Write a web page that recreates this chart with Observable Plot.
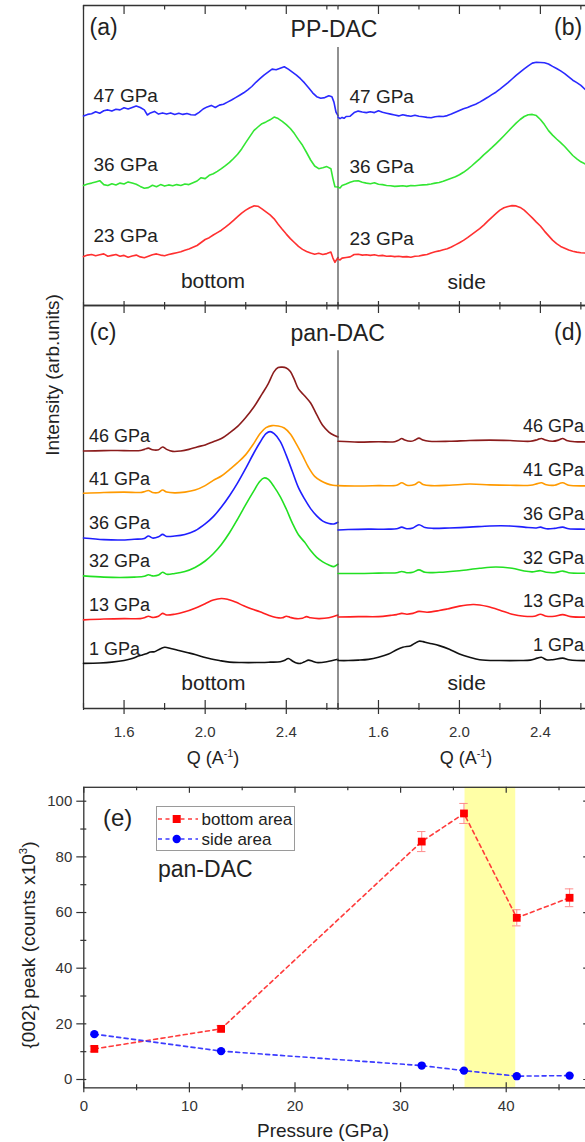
<!DOCTYPE html>
<html><head><meta charset="utf-8">
<script src="https://cdn.jsdelivr.net/npm/d3@7"></script>
<script src="https://cdn.jsdelivr.net/npm/@observablehq/plot@0.6"></script>
<style>
html,body{margin:0;padding:0;background:#fff;overflow:hidden;}
#fig{position:relative;width:585px;height:1142px;overflow:hidden;font-family:"Liberation Sans",Arial,sans-serif;color:#222;background:#fff;}
#fig svg{max-width:none !important;}
.lbl{position:absolute;white-space:nowrap;line-height:1;}
.c{transform:translate(-50%,-50%);}
.l{transform:translate(0,-50%);}
.rot{transform:translate(-50%,-50%) rotate(-90deg);}
</style></head><body><div id="fig"></div>
<script>
// ---------------- DATA ----------------
const qMajor = [1.6, 2.0, 2.4];
const qMinor = [1.4, 1.8, 2.2, 2.6];
const qDomain = [1.4, 2.655];

const ppLabels = ["47 GPa", "36 GPa", "23 GPa"];
const panLabels = ["46 GPa", "41 GPa", "36 GPa", "32 GPa", "13 GPa", "1 GPa"];

// PP-DAC, bottom (a)
const ppBottom47 = [[1.40,63.2],[1.42,63.7],[1.44,63.9],[1.46,64.6],[1.48,64.1],[1.50,64.9],[1.52,65.2],[1.54,64.8],[1.56,65.4],[1.58,65.2],[1.60,65.9],[1.62,65.5],[1.64,66.0],[1.66,66.5],[1.68,66.0],[1.70,65.2],[1.715,63.5],[1.73,64.2],[1.75,64.7],[1.77,63.8],[1.79,64.2],[1.81,63.8],[1.83,64.2],[1.85,63.7],[1.87,64.1],[1.89,63.7],[1.91,64.0],[1.93,63.6],[1.95,63.5],[1.97,64.4],[1.99,65.5],[2.01,66.2],[2.03,66.7],[2.05,66.0],[2.07,66.8],[2.09,67.1],[2.11,67.8],[2.13,68.5],[2.15,69.3],[2.17,70.1],[2.19,70.9],[2.21,71.9],[2.23,73.0],[2.25,74.4],[2.27,75.6],[2.29,76.8],[2.31,77.8],[2.33,78.8],[2.35,78.6],[2.37,79.1],[2.39,79.6],[2.41,78.8],[2.43,77.8],[2.45,76.8],[2.47,75.6],[2.49,74.2],[2.51,72.6],[2.53,70.9],[2.55,69.6],[2.57,69.1],[2.59,69.3],[2.61,69.9],[2.625,69.6],[2.635,67.8],[2.645,64.5],[2.655,63.3]];
const ppBottom36 = [[1.40,40.0],[1.42,40.5],[1.44,40.8],[1.46,41.2],[1.48,41.6],[1.50,40.3],[1.52,40.0],[1.54,40.6],[1.56,40.2],[1.58,40.8],[1.60,40.5],[1.62,41.2],[1.64,40.8],[1.66,40.4],[1.68,39.7],[1.70,39.1],[1.72,39.3],[1.74,40.1],[1.76,39.6],[1.78,40.3],[1.80,39.8],[1.82,40.2],[1.84,39.9],[1.86,40.3],[1.88,40.0],[1.90,40.5],[1.92,40.3],[1.94,40.9],[1.96,41.5],[1.98,42.6],[2.00,42.3],[2.02,43.4],[2.04,43.9],[2.06,44.7],[2.08,45.6],[2.10,46.6],[2.12,47.7],[2.14,49.0],[2.16,50.4],[2.18,52.2],[2.20,54.3],[2.22,56.3],[2.24,58.3],[2.26,59.5],[2.28,60.6],[2.30,61.2],[2.32,61.9],[2.34,62.8],[2.36,62.3],[2.38,61.4],[2.40,60.3],[2.42,59.0],[2.44,57.3],[2.46,55.3],[2.48,53.4],[2.50,51.0],[2.52,48.5],[2.54,46.5],[2.56,45.6],[2.58,45.9],[2.60,46.3],[2.62,45.6],[2.63,42.3],[2.64,39.6],[2.655,39.5]];
const ppBottom23 = [[1.40,16.3],[1.42,16.8],[1.44,17.0],[1.46,16.6],[1.48,16.9],[1.50,17.2],[1.52,16.4],[1.54,16.7],[1.56,17.0],[1.58,16.4],[1.60,16.7],[1.62,16.1],[1.64,16.5],[1.66,16.8],[1.68,16.2],[1.70,15.9],[1.72,16.4],[1.74,16.9],[1.76,17.2],[1.78,16.8],[1.80,16.6],[1.82,17.0],[1.84,17.3],[1.86,17.6],[1.88,17.9],[1.90,18.4],[1.92,18.8],[1.94,19.4],[1.96,20.0],[1.98,21.0],[2.00,22.0],[2.02,22.6],[2.04,23.5],[2.06,24.3],[2.08,25.1],[2.10,26.1],[2.12,27.2],[2.14,28.4],[2.16,29.6],[2.18,30.8],[2.20,31.8],[2.22,32.6],[2.24,33.2],[2.26,33.1],[2.28,32.2],[2.30,31.2],[2.32,30.2],[2.34,28.9],[2.36,27.1],[2.38,25.4],[2.40,23.8],[2.42,22.3],[2.44,21.0],[2.46,19.7],[2.48,18.7],[2.50,18.0],[2.52,17.5],[2.54,17.1],[2.56,17.4],[2.58,17.0],[2.60,17.3],[2.62,17.8],[2.63,15.8],[2.64,14.4],[2.655,16.0]];

// PP-DAC, side (b)
const ppSide47 = [[1.40,62.8],[1.41,62.3],[1.42,62.7],[1.43,62.4],[1.44,63.0],[1.46,63.1],[1.48,64.3],[1.50,64.8],[1.52,64.5],[1.54,64.3],[1.56,64.6],[1.58,64.3],[1.60,64.9],[1.62,64.4],[1.64,64.1],[1.66,63.8],[1.68,63.5],[1.70,63.2],[1.72,63.6],[1.74,63.3],[1.76,63.1],[1.78,63.4],[1.80,63.1],[1.82,62.9],[1.84,62.7],[1.86,62.6],[1.88,62.9],[1.90,63.1],[1.92,63.0],[1.94,63.3],[1.96,63.8],[1.98,64.4],[2.00,65.0],[2.02,65.6],[2.04,66.0],[2.06,66.6],[2.08,67.1],[2.10,67.8],[2.12,68.6],[2.14,69.4],[2.16,70.3],[2.18,71.1],[2.20,72.1],[2.22,73.2],[2.24,74.3],[2.26,75.5],[2.28,76.7],[2.30,77.8],[2.32,78.9],[2.34,79.9],[2.36,80.8],[2.38,81.1],[2.40,81.0],[2.42,80.9],[2.44,80.5],[2.46,79.7],[2.48,79.0],[2.50,78.2],[2.52,77.3],[2.54,76.2],[2.56,75.1],[2.58,74.3],[2.60,73.4],[2.62,72.1],[2.64,71.0],[2.655,70.2]];
const ppSide36 = [[1.40,39.4],[1.41,39.2],[1.42,40.0],[1.44,40.5],[1.46,41.1],[1.48,41.5],[1.50,41.6],[1.52,41.1],[1.54,40.8],[1.56,40.6],[1.58,40.9],[1.60,40.4],[1.62,40.3],[1.64,40.0],[1.66,39.9],[1.68,39.7],[1.70,39.8],[1.72,39.9],[1.74,39.7],[1.76,40.0],[1.78,39.9],[1.80,40.1],[1.82,40.2],[1.84,40.3],[1.86,40.5],[1.88,40.8],[1.90,41.0],[1.92,41.4],[1.94,41.9],[1.96,42.4],[1.98,42.9],[2.00,43.6],[2.02,44.4],[2.04,45.4],[2.06,46.5],[2.08,47.7],[2.10,48.9],[2.12,50.2],[2.14,51.4],[2.16,52.6],[2.18,53.9],[2.20,55.2],[2.22,56.6],[2.24,58.0],[2.26,59.4],[2.28,60.8],[2.30,62.0],[2.32,63.0],[2.34,63.6],[2.36,63.7],[2.38,63.3],[2.40,62.0],[2.42,60.3],[2.44,58.3],[2.46,56.8],[2.48,55.5],[2.50,54.3],[2.52,53.0],[2.54,51.5],[2.56,50.0],[2.58,48.9],[2.60,47.9],[2.62,47.2],[2.64,46.6],[2.655,46.2]];
const ppSide23 = [[1.40,15.5],[1.41,15.2],[1.42,15.8],[1.44,16.0],[1.46,16.2],[1.48,17.0],[1.50,17.1],[1.52,16.8],[1.54,16.9],[1.56,16.7],[1.58,16.9],[1.60,16.6],[1.62,16.7],[1.64,16.4],[1.66,16.5],[1.68,16.3],[1.70,16.4],[1.72,16.2],[1.74,16.3],[1.76,16.1],[1.78,16.4],[1.80,16.5],[1.82,16.8],[1.84,17.0],[1.86,17.5],[1.88,17.9],[1.90,18.2],[1.92,18.6],[1.94,18.9],[1.96,19.5],[1.98,20.2],[2.00,20.9],[2.02,21.7],[2.04,22.6],[2.06,23.6],[2.08,24.6],[2.10,25.6],[2.12,26.8],[2.14,28.1],[2.16,29.4],[2.18,30.6],[2.20,31.8],[2.22,32.6],[2.24,33.0],[2.26,33.3],[2.28,33.2],[2.30,32.7],[2.32,31.8],[2.34,30.5],[2.36,29.2],[2.38,27.8],[2.40,26.5],[2.42,24.8],[2.44,23.3],[2.46,21.8],[2.48,20.6],[2.50,19.7],[2.52,19.1],[2.54,18.5],[2.56,18.1],[2.58,17.8],[2.60,17.6],[2.62,17.5],[2.655,17.3]];

// pan-DAC, bottom (c)
const panBottom46 = [[1.40,63.9],[1.50,64.0],[1.60,64.0],[1.68,64.0],[1.70,64.3],[1.72,64.6],[1.74,64.2],[1.77,64.2],[1.79,64.9],[1.81,64.3],[1.84,63.8],[1.88,63.9],[1.92,64.3],[1.96,64.9],[2.00,65.4],[2.04,66.2],[2.08,67.0],[2.12,68.4],[2.16,70.0],[2.20,72.2],[2.24,74.8],[2.28,78.0],[2.31,80.5],[2.34,83.6],[2.36,84.6],[2.38,84.7],[2.40,84.5],[2.42,83.6],[2.44,81.6],[2.46,79.3],[2.49,77.6],[2.52,75.8],[2.55,72.9],[2.58,70.2],[2.61,68.6],[2.635,67.8],[2.655,67.4]];
const panBottom41 = [[1.40,53.4],[1.50,53.6],[1.60,53.7],[1.68,53.6],[1.70,53.8],[1.72,54.1],[1.74,53.6],[1.77,53.6],[1.79,54.2],[1.81,53.7],[1.85,53.5],[1.90,53.7],[1.95,54.2],[2.00,55.3],[2.04,56.6],[2.08,57.7],[2.12,59.3],[2.16,61.0],[2.20,63.0],[2.24,65.8],[2.27,68.2],[2.30,69.7],[2.33,70.2],[2.36,70.1],[2.39,69.6],[2.42,68.1],[2.45,65.6],[2.48,62.8],[2.51,59.8],[2.54,57.6],[2.57,56.5],[2.60,55.8],[2.63,55.4],[2.655,55.3]];
const panBottom36 = [[1.40,42.3],[1.50,41.9],[1.58,41.8],[1.65,42.0],[1.70,42.2],[1.72,42.8],[1.74,42.3],[1.77,42.6],[1.79,43.2],[1.81,42.7],[1.85,42.8],[1.90,43.2],[1.95,44.1],[2.00,45.8],[2.04,47.6],[2.08,50.0],[2.12,52.8],[2.16,56.0],[2.20,59.6],[2.24,63.4],[2.27,66.0],[2.30,68.2],[2.32,68.7],[2.34,68.2],[2.37,66.3],[2.40,62.8],[2.43,58.8],[2.46,54.8],[2.49,52.0],[2.52,49.6],[2.55,47.8],[2.58,46.5],[2.61,45.9],[2.635,45.8],[2.655,46.2]];
const panBottom32 = [[1.40,32.9],[1.50,32.6],[1.58,32.5],[1.65,32.6],[1.70,32.8],[1.72,33.2],[1.74,32.9],[1.77,33.1],[1.79,33.8],[1.81,33.3],[1.85,33.5],[1.90,34.0],[1.95,35.0],[2.00,36.6],[2.04,38.4],[2.08,40.7],[2.12,43.6],[2.16,47.0],[2.20,50.6],[2.24,54.0],[2.27,56.4],[2.29,57.2],[2.31,56.9],[2.34,55.0],[2.37,52.6],[2.40,49.5],[2.43,46.0],[2.46,43.1],[2.49,41.3],[2.52,39.2],[2.55,37.5],[2.58,36.4],[2.61,35.6],[2.635,35.2],[2.655,35.8]];
const panBottom13 = [[1.40,22.0],[1.50,22.2],[1.60,22.3],[1.68,22.3],[1.70,22.5],[1.72,22.9],[1.74,22.6],[1.77,22.9],[1.79,23.6],[1.81,23.2],[1.85,23.4],[1.90,24.0],[1.95,24.9],[2.00,26.0],[2.04,26.9],[2.08,27.3],[2.11,27.1],[2.15,26.4],[2.19,25.5],[2.23,24.7],[2.27,24.0],[2.31,23.2],[2.35,22.6],[2.38,22.5],[2.40,22.9],[2.42,22.6],[2.45,22.3],[2.48,22.4],[2.50,22.8],[2.52,22.5],[2.56,22.3],[2.61,22.5],[2.655,23.2]];
const panBottom1 = [[1.40,11.2],[1.48,11.3],[1.54,11.5],[1.60,11.9],[1.64,12.4],[1.67,13.0],[1.69,13.3],[1.71,13.6],[1.73,14.0],[1.75,14.1],[1.77,14.6],[1.80,15.2],[1.83,14.9],[1.87,14.4],[1.91,13.9],[1.95,13.4],[1.99,12.8],[2.03,12.3],[2.07,11.9],[2.12,11.5],[2.18,11.4],[2.25,11.4],[2.32,11.5],[2.37,11.6],[2.39,11.9],[2.41,12.4],[2.43,11.8],[2.45,11.3],[2.47,11.2],[2.49,11.6],[2.51,12.0],[2.53,11.7],[2.55,11.4],[2.60,11.6],[2.655,12.2]];

// pan-DAC, side (d)
const panSide46 = [[1.40,66.3],[1.50,66.1],[1.60,66.2],[1.68,66.2],[1.70,66.6],[1.715,67.0],[1.73,66.6],[1.76,66.3],[1.78,66.6],[1.80,67.1],[1.82,66.6],[1.85,66.3],[1.95,66.3],[2.05,66.5],[2.15,66.6],[2.25,66.5],[2.35,66.3],[2.385,66.7],[2.405,67.0],[2.425,66.6],[2.46,66.3],[2.49,66.6],[2.51,67.0],[2.53,66.5],[2.57,66.2],[2.655,66.2]];
const panSide41 = [[1.40,55.3],[1.50,55.2],[1.60,55.3],[1.69,55.4],[1.715,56.0],[1.74,55.4],[1.78,55.6],[1.80,56.2],[1.82,55.6],[1.86,55.3],[1.95,55.4],[2.05,55.7],[2.15,55.5],[2.25,55.4],[2.35,55.4],[2.385,55.8],[2.405,56.0],[2.43,55.5],[2.47,55.4],[2.51,56.0],[2.54,55.4],[2.655,55.3]];
const panSide36 = [[1.40,44.3],[1.45,44.4],[1.55,44.5],[1.65,44.5],[1.69,44.6],[1.715,45.0],[1.74,44.6],[1.77,44.8],[1.80,45.6],[1.83,44.9],[1.87,44.7],[1.95,44.8],[2.05,45.0],[2.15,45.3],[2.25,45.3],[2.32,45.0],[2.38,44.8],[2.40,45.0],[2.43,44.6],[2.47,44.7],[2.51,45.0],[2.54,44.6],[2.60,44.5],[2.655,44.5]];
const panSide32 = [[1.40,33.5],[1.50,33.5],[1.60,33.6],[1.69,33.7],[1.715,34.0],[1.74,33.7],[1.77,33.8],[1.80,34.4],[1.83,33.8],[1.90,33.8],[2.00,34.2],[2.10,34.8],[2.18,35.1],[2.26,34.8],[2.32,34.1],[2.36,33.9],[2.40,34.2],[2.43,33.8],[2.47,33.7],[2.51,34.1],[2.54,33.7],[2.655,33.6]];
const panSide13 = [[1.40,22.7],[1.50,22.8],[1.60,22.8],[1.66,23.1],[1.69,23.3],[1.715,23.6],[1.74,23.4],[1.77,23.6],[1.80,24.1],[1.84,23.9],[1.90,24.3],[1.94,24.7],[2.00,25.4],[2.067,25.8],[2.10,25.7],[2.14,25.3],[2.20,24.4],[2.26,23.4],[2.32,22.9],[2.37,22.9],[2.40,23.4],[2.43,22.9],[2.47,22.9],[2.51,23.3],[2.55,22.8],[2.655,22.7]];
const panSide1 = [[1.40,11.9],[1.45,11.9],[1.50,12.0],[1.55,12.2],[1.60,12.7],[1.65,13.5],[1.69,14.6],[1.72,15.2],[1.76,15.6],[1.78,16.2],[1.80,16.7],[1.82,16.6],[1.84,16.3],[1.87,16.0],[1.90,15.6],[1.95,14.7],[2.00,13.5],[2.05,12.7],[2.10,12.1],[2.20,11.9],[2.30,11.9],[2.35,12.0],[2.385,12.5],[2.405,12.7],[2.43,12.1],[2.46,12.1],[2.51,12.5],[2.54,12.1],[2.58,11.9],[2.655,11.9]];

// Panel (e)
const pressure   = [1, 13, 32, 36, 41, 46];
const bottomArea = [11.0, 18.2, 85.5, 95.6, 58.1, 65.3];
const bottomErr  = [1.0, 1.1, 3.6, 3.6, 2.9, 3.2];
const sideArea   = [16.3, 10.2, 5.0, 3.2, 1.2, 1.4];
const anomalyRange = [36.1, 40.9];
const pMajor = [0, 10, 20, 30, 40];
const pMinor = [5, 15, 25, 35, 45];
const aMajor = [0, 20, 40, 60, 80, 100];
const aMinor = [10, 30, 50, 70, 90];

// ---------------- STYLE ----------------
const FONT = "'Liberation Sans', Arial, sans-serif";
const FRAME = "#333";
const ppColors = ["#2a2aff", "#33e633", "#ff3030"];
const panColors = ["#8b1c1c", "#ff9a00", "#1f1fff", "#22e022", "#ff2020", "#111111"];
const W = 600;
const SVG_STYLE = {background: "transparent", overflow: "visible", fontFamily: FONT, maxWidth: "none"};

const fig = document.getElementById("fig");
function place(svg, top) {
  svg.style.position = "absolute"; svg.style.left = "0px"; svg.style.top = top + "px";
  svg.style.maxWidth = "none";
  fig.appendChild(svg);
}
function addText(html, x, y, size, cls) {
  const d = document.createElement("div");
  d.className = "lbl " + cls;
  d.style.left = x + "px"; d.style.top = y + "px"; d.style.fontSize = size + "px";
  d.innerHTML = html;
  fig.appendChild(d);
}

function spectraPanel(cfg) {
  const left = cfg.side === "bottom" ? 83 : 337.5;
  const right = cfg.side === "bottom" ? 337.5 : 591.5;
  const fh = cfg.height - cfg.mt - cfg.mb;
  const yDom = [0, 100];
  const marks = [];
  marks.push(Plot.ruleY([yDom[1]], {stroke: FRAME, strokeWidth: 1.3}));
  marks.push(Plot.ruleY([yDom[0]], {stroke: FRAME, strokeWidth: 1.3}));
  if (cfg.side === "bottom") marks.push(Plot.ruleX([qDomain[0]], {stroke: FRAME, strokeWidth: 1.3}));
  else marks.push(Plot.ruleX([qDomain[0]], {y1: yDom[0], y2: cfg.dividerTop, stroke: "#555", strokeWidth: 1.3}));
  marks.push(Plot.tickX(qMajor, {x: d => d, insetBottom: fh - cfg.topTicks[0], stroke: FRAME, strokeWidth: 1.2}));
  marks.push(Plot.tickX(qMinor, {x: d => d, insetBottom: fh - cfg.topTicks[1], stroke: FRAME, strokeWidth: 1.2}));
  const bt = cfg.bottomTicks;
  marks.push(Plot.tickX(qMajor, {x: d => d, insetTop: fh - bt[0], insetBottom: -bt[1], stroke: FRAME, strokeWidth: 1.2}));
  marks.push(Plot.tickX(qMinor, {x: d => d, insetTop: fh - bt[2], insetBottom: -bt[3], stroke: FRAME, strokeWidth: 1.2}));
  if (cfg.tickLabels) {
    marks.push(Plot.text(qMajor, {x: d => d, text: d => d.toFixed(1), frameAnchor: "bottom", dy: 23.5, lineAnchor: "middle", fontSize: 15, fill: "#333"}));
  }
  cfg.series.forEach(s => {
    marks.push(Plot.line(s.data, {x: d => d[0], y: d => d[1], stroke: s.color, strokeWidth: 1.6, curve: cfg.curve}));
  });
  cfg.series.forEach(s => {
    const yv = cfg.labelAtEnd ? s.data[s.data.length - 1][1] : s.data[0][1];
    marks.push(Plot.text([s], {
      y: () => yv + cfg.labelOffset, text: () => s.label,
      frameAnchor: cfg.labelAtEnd ? "right" : "left",
      textAnchor: cfg.labelAtEnd ? "end" : "start",
      dx: cfg.labelDx, lineAnchor: "middle", fontSize: cfg.fontSize, fill: "#222"
    }));
  });
  const svg = Plot.plot({
    width: W, height: cfg.height,
    marginLeft: left, marginRight: W - right, marginTop: cfg.mt, marginBottom: cfg.mb,
    x: {domain: qDomain, axis: null},
    y: {domain: yDom, axis: null},
    style: SVG_STYLE,
    marks
  });
  place(svg, cfg.top);
}

const mk = (datas, labels, colors) => datas.map((d, i) => ({data: d, label: labels[i], color: colors[i]}));

// Row 1: PP-DAC
const row1 = {top: 0, height: 310, mt: 5, mb: 5, topTicks: [9, 4.5], bottomTicks: [4, 0, 3, 0], curve: "linear", fontSize: 19, labelOffset: 6.8, tickLabels: false, dividerTop: 86};
spectraPanel({...row1, side: "bottom", series: mk([ppBottom47, ppBottom36, ppBottom23], ppLabels, ppColors), labelDx: 10});
spectraPanel({...row1, side: "side", series: mk([ppSide47, ppSide36, ppSide23], ppLabels, ppColors), labelDx: 11.5});

// Row 2: pan-DAC
const row2 = {top: 300, height: 460, mt: 5, mb: 52, topTicks: [8, 4.5], bottomTicks: [8, 6, 5, 2], curve: "catmull-rom", fontSize: 18, tickLabels: true, dividerTop: 88.8};
spectraPanel({...row2, side: "bottom", series: mk([panBottom46, panBottom41, panBottom36, panBottom32, panBottom13, panBottom1], panLabels, panColors), labelDx: 5.5, labelOffset: 3.6});
spectraPanel({...row2, side: "side", series: mk([panSide46, panSide41, panSide36, panSide32, panSide13, panSide1], panLabels, panColors), labelDx: -8, labelOffset: 3.8, labelAtEnd: true});

// Panel (e)
{
  const height = 372, mt = 16.8, mb = 54.65, ml = 83.3, mr = W - 590.2;
  const fh = height - mt - mb, fw = W - ml - mr;
  const idx = d3.range(pressure.length);
  const svg = Plot.plot({
    width: W, height,
    marginLeft: ml, marginRight: mr, marginTop: mt, marginBottom: mb,
    x: {domain: [0, 48], axis: null},
    y: {domain: [-3, 105], axis: null},
    style: SVG_STYLE,
    marks: [
      Plot.rect([anomalyRange], {x1: d => d[0], x2: d => d[1], fill: "#ffffa6"}),
      Plot.tickX(pMajor, {x: d => d, insetTop: fh - 5, insetBottom: -5, stroke: FRAME, strokeWidth: 1.2}),
      Plot.tickX(pMinor, {x: d => d, insetTop: fh - 3, insetBottom: -3, stroke: FRAME, strokeWidth: 1.2}),
      Plot.tickX(pMajor, {x: d => d, insetBottom: fh - 6, stroke: FRAME, strokeWidth: 1.2}),
      Plot.tickX(pMinor, {x: d => d, insetBottom: fh - 3.5, stroke: FRAME, strokeWidth: 1.2}),
      Plot.tickY(aMajor, {y: d => d, insetRight: fw - 3, insetLeft: -7, stroke: FRAME, strokeWidth: 1.2}),
      Plot.tickY(aMinor, {y: d => d, insetRight: fw - 3, insetLeft: -3, stroke: FRAME, strokeWidth: 1.2}),
      Plot.tickY(aMajor, {y: d => d, insetLeft: fw - 7, stroke: FRAME, strokeWidth: 1.2}),
      Plot.tickY(aMinor, {y: d => d, insetLeft: fw - 4, stroke: FRAME, strokeWidth: 1.2}),
      Plot.frame({stroke: FRAME, strokeWidth: 1.3}),
      Plot.text(pMajor, {x: d => d, text: d => String(d), frameAnchor: "bottom", dy: 18, lineAnchor: "middle", fontSize: 15, fill: "#333"}),
      Plot.text(aMajor, {y: d => d, text: d => String(d), frameAnchor: "left", dx: -11.5, textAnchor: "end", lineAnchor: "middle", fontSize: 15, fill: "#333"}),
      Plot.ruleX(idx, {x: i => pressure[i], y1: i => bottomArea[i] - bottomErr[i], y2: i => bottomArea[i] + bottomErr[i], stroke: "#ff8c8c", strokeWidth: 1}),
      Plot.ruleY(idx, {y: i => bottomArea[i] + bottomErr[i], x1: i => pressure[i] - 0.4, x2: i => pressure[i] + 0.4, stroke: "#ff8c8c", strokeWidth: 1}),
      Plot.ruleY(idx, {y: i => bottomArea[i] - bottomErr[i], x1: i => pressure[i] - 0.4, x2: i => pressure[i] + 0.4, stroke: "#ff8c8c", strokeWidth: 1}),
      Plot.line(idx, {x: i => pressure[i], y: i => bottomArea[i], stroke: "#ff3b3b", strokeWidth: 1.6, strokeDasharray: "4,3.5"}),
      Plot.line(idx, {x: i => pressure[i], y: i => sideArea[i], stroke: "#3b3bff", strokeWidth: 1.6, strokeDasharray: "4,3.5"}),
      Plot.dot(idx, {x: i => pressure[i], y: i => bottomArea[i], symbol: "square", r: 4.4, fill: "#ff0000", stroke: "none"}),
      Plot.dot(idx, {x: i => pressure[i], y: i => sideArea[i], symbol: "circle", r: 4.2, fill: "#0000ff", stroke: "none"})
    ]
  });
  place(svg, 770);
}

// Legend for (e)
{
  const lg = document.createElement("div");
  lg.style.cssText = "position:absolute;left:156px;top:806px;width:139px;height:45px;border:1.3px solid #9a9a9a;box-sizing:border-box;background:#fff;";
  lg.innerHTML = `<svg width="137" height="43" style="position:absolute;left:0;top:0;font-family:${FONT}">
    <line x1="1" x2="41" y1="12" y2="12" stroke="#ff3b3b" stroke-width="1.6" stroke-dasharray="4,3.5"/>
    <rect x="15.7" y="8" width="8" height="8" fill="#ff0000"/>
    <line x1="1" x2="41" y1="32" y2="32" stroke="#3b3bff" stroke-width="1.6" stroke-dasharray="4,3.5"/>
    <circle cx="19.7" cy="32" r="4.2" fill="#0000ff"/>
    <text x="44.5" y="12" dy="0.35em" font-size="17" fill="#222">bottom area</text>
    <text x="44.5" y="32" dy="0.35em" font-size="17" fill="#222">side area</text>
  </svg>`;
  fig.appendChild(lg);
}

// Annotations
addText("(a)", 89.5, 27, 23, "l");
addText("PP-DAC", 334, 29, 23, "c");
addText("(b)", 554, 27, 23, "l");
addText("bottom", 213, 280, 21, "c");
addText("side", 466.7, 280.5, 21, "c");
addText("(c)", 89.5, 331.5, 23, "l");
addText("pan-DAC", 337.7, 333, 23, "c");
addText("(d)", 554, 332, 23, "l");
addText("bottom", 213.4, 681.5, 21, "c");
addText("side", 466.7, 681.5, 21, "c");
addText("Q (A<sup style='font-size:0.6em'>-1</sup>)", 213, 757, 18, "c");
addText("Q (A<sup style='font-size:0.6em'>-1</sup>)", 466, 757, 18, "c");
addText("Intensity (arb.units)", 52, 375, 19, "rot");
addText("(e)", 103, 818, 24, "l");
addText("pan-DAC", 158, 869, 23, "l");
addText("{002} peak (counts x10<sup style='font-size:0.6em'>3</sup>)", 28, 945, 19, "rot");
addText("Pressure (GPa)", 323, 1130, 19, "c");
</script>
</body></html>
